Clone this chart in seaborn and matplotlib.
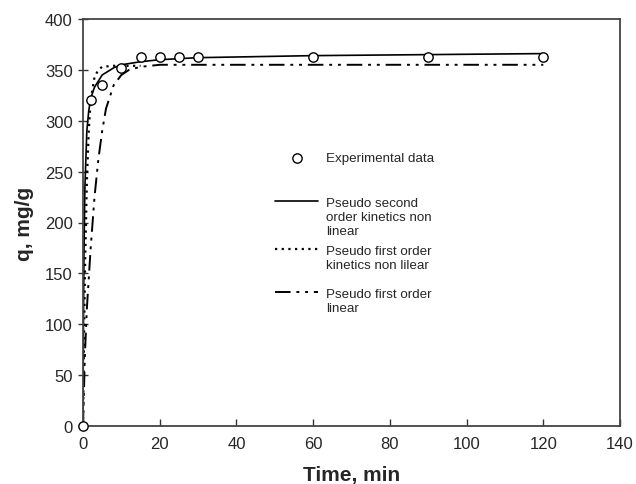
import matplotlib
matplotlib.use("Agg")
import matplotlib.pyplot as plt
import seaborn as sns
import pandas as pd

# Experimental data
t_exp = [0, 2, 5, 10, 15, 20, 25, 30, 60, 90, 120]
q_exp = [0, 320, 335, 352, 363, 363, 363, 363, 363, 363, 363]

# Pseudo second order kinetics non linear
t_pso = [0, 0.1, 0.25, 0.5, 1, 1.5, 2, 3, 5, 8, 10, 15, 20, 30, 60, 90, 120]
q_pso = [0, 90, 170, 235, 290, 310, 322, 333, 345, 352, 355, 358, 360, 362, 364, 365, 366]

# Pseudo first order kinetics non linear
t_pfo = [0, 0.25, 0.5, 1, 1.5, 2, 3, 4, 5, 8, 15]
q_pfo = [0, 80, 150, 240, 290, 320, 343, 350, 353, 354, 354]

# Pseudo first order linear
t_pfl = [0, 0.5, 1, 2, 3, 4, 5, 6, 8, 10, 12, 15, 20, 30, 60, 90, 120]
q_pfl = [0, 70, 115, 175, 225, 262, 290, 312, 335, 345, 350, 353, 355, 355, 355, 355, 355]

labels = ["Experimental data",
          "Pseudo second\norder kinetics non\nlinear",
          "Pseudo first order\nkinetics non lilear",
          "Pseudo first order\nlinear"]

sns.set_theme(style="white")
plt.rcParams['font.family'] = ['Liberation Sans', 'DejaVu Sans']

fig = plt.figure(figsize=(6.36, 4.85), dpi=100)
ax = fig.add_axes([83/636, 1-427/485, (620-83)/636, (427-20)/485])

df_pso = pd.DataFrame({"t": t_pso, "q": q_pso})
df_pfo = pd.DataFrame({"t": t_pfo, "q": q_pfo})
df_pfl = pd.DataFrame({"t": t_pfl, "q": q_pfl})
df_exp = pd.DataFrame({"t": t_exp, "q": q_exp})

sns.lineplot(data=df_pso, x="t", y="q", ax=ax, color="black", lw=1.2, label=labels[1])
sns.lineplot(data=df_pfo, x="t", y="q", ax=ax, color="black", lw=1.6, label=labels[2])
sns.lineplot(data=df_pfl, x="t", y="q", ax=ax, color="black", lw=1.4, label=labels[3])
lines = ax.get_lines()
lines[1].set_linestyle((0, (1, 2)))
lines[2].set_linestyle((0, (8, 3, 1.5, 3, 1.5, 3)))
sns.scatterplot(data=df_exp, x="t", y="q", ax=ax, marker="o", s=45,
                facecolor="white", edgecolor="black", linewidth=1.0,
                label=labels[0], zorder=5, clip_on=False)

ax.set_xlim(0, 140)
ax.set_ylim(0, 400)
ax.set_xticks(range(0, 141, 20))
ax.set_yticks(range(0, 401, 50))
ax.tick_params(axis="x", direction="in", length=5, width=1, labelsize=12, color="#333333",
               top=False, bottom=True, pad=7)
ax.tick_params(axis="y", direction="inout", length=7, width=1, labelsize=12, color="#333333",
               right=False, left=True, pad=4)
for s in ax.spines.values():
    s.set_color("#444444")
    s.set_linewidth(1.3)
ax.set_xlabel("Time, min", fontsize=15, fontweight="bold", labelpad=10)
ax.set_ylabel("q, mg/g", fontsize=15, fontweight="bold", labelpad=8)

h, l = ax.get_legend_handles_labels()
if ax.get_legend():
    ax.get_legend().remove()
order = [3, 0, 1, 2]
anchors_y = [0.7026, 0.5921, 0.4742, 0.3685]
legs = []
for idx, ay in zip(order, anchors_y):
    leg = ax.legend([h[idx]], [l[idx]], frameon=False, loc="upper left",
                    bbox_to_anchor=(0.336, ay), fontsize=9.6,
                    handlelength=3.2, handletextpad=0.6, handleheight=0.25)
    for t in leg.get_texts():
        t.set_linespacing(1.2)
    for col in leg._legend_handle_box.get_children():
        for item in col.get_children():
            item.align = "top"
    legs.append(leg)
for leg in legs[:-1]:
    ax.add_artist(leg)

fig.savefig("out.png", dpi=100)
